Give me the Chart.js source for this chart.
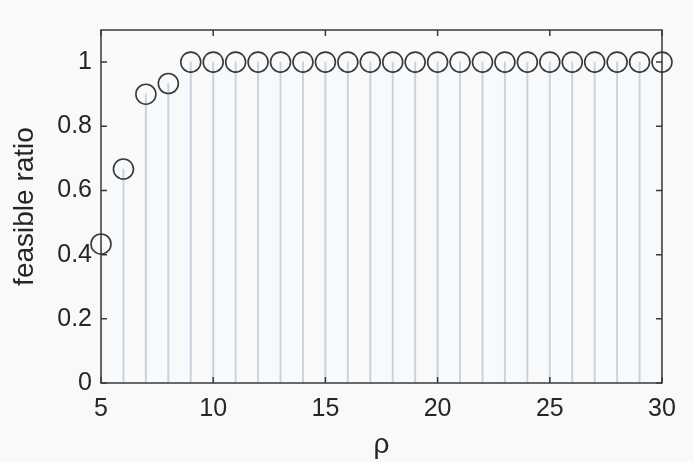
<!DOCTYPE html>
<html>
<head>
<meta charset="utf-8">
<script src="https://cdn.jsdelivr.net/npm/chart.js@4.4.1/dist/chart.umd.min.js"></script>
<style>
  html, body { margin: 0; padding: 0; background: #f8f9fb; }
  #wrap { width: 693px; height: 462px; }
</style>
</head>
<body>
<div id="wrap"><canvas id="c" width="693" height="462"></canvas></div>
<script>
// rho values and the feasible ratio at each
const rhoValues = [5, 6, 7, 8, 9, 10, 11, 12, 13, 14, 15, 16, 17, 18, 19, 20, 21, 22, 23, 24, 25, 26, 27, 28, 29, 30];
const feasibleRatio = [0.4333, 0.6667, 0.9, 0.9333, 1, 1, 1, 1, 1, 1, 1, 1, 1, 1, 1, 1, 1, 1, 1, 1, 1, 1, 1, 1, 1, 1];
const xTicks = [5, 10, 15, 20, 25, 30];
const yTicks = [0, 0.2, 0.4, 0.6, 0.8, 1];

const points = rhoValues.map((r, i) => ({ x: r, y: feasibleRatio[i] }));

const AXIS_COLOR = '#3a3a3a';
const TEXT_COLOR = '#262626';
const FONT = 'Liberation Sans, Arial, Helvetica, sans-serif';

// background, box outline and inward tick marks on all four sides
const framePlugin = {
  id: 'frame',
  beforeDraw(chart) {
    const ctx = chart.ctx;
    ctx.save();
    ctx.fillStyle = '#f8f9fb';
    ctx.fillRect(0, 0, chart.width, chart.height);
    ctx.restore();
  },
  afterDatasetsDraw(chart) {
    const { ctx, chartArea: a, scales } = chart;
    const len = 6;
    ctx.save();
    ctx.strokeStyle = AXIS_COLOR;
    ctx.lineWidth = 1.5;
    ctx.beginPath();
    xTicks.forEach(v => {
      const px = scales.x.getPixelForValue(v);
      ctx.moveTo(px, a.bottom); ctx.lineTo(px, a.bottom - len);
      ctx.moveTo(px, a.top); ctx.lineTo(px, a.top + len);
    });
    yTicks.forEach(v => {
      const py = scales.y.getPixelForValue(v);
      ctx.moveTo(a.left, py); ctx.lineTo(a.left + len, py);
      ctx.moveTo(a.right, py); ctx.lineTo(a.right - len, py);
    });
    ctx.stroke();
    ctx.strokeRect(a.left, a.top, a.right - a.left, a.bottom - a.top);
    ctx.restore();
  }
};

new Chart(document.getElementById('c'), {
  data: {
    datasets: [
      {
        type: 'scatter',
        data: points,
        pointStyle: 'circle',
        pointRadius: 10,
        pointHoverRadius: 10,
        pointBorderWidth: 1.6,
        pointBorderColor: '#383838',
        pointBackgroundColor: 'rgba(0,0,0,0)',
        showLine: false,
        clip: false,
        order: 1
      },
      {
        type: 'bar',
        data: points,
        backgroundColor: '#c6d3dd',
        borderWidth: 0,
        barThickness: 1.3,
        order: 2
      }
    ]
  },
  options: {
    responsive: false,
    animation: false,
    events: [],
    layout: { padding: { top: 30, right: 31, left: 0, bottom: 0 } },
    plugins: { legend: { display: false }, tooltip: { enabled: false } },
    scales: {
      x: {
        type: 'linear',
        position: 'bottom',
        min: 5,
        max: 30,
        offset: false,
        afterBuildTicks(scale) { scale.ticks = xTicks.map(v => ({ value: v })); },
        afterFit(scale) { scale.height = 79; },
        grid: { display: false, drawTicks: false },
        border: { display: false },
        ticks: {
          color: TEXT_COLOR,
          font: { family: FONT, size: 25 },
          padding: 11,
          maxRotation: 0,
          autoSkip: false
        },
        title: {
          display: true,
          text: 'ρ',
          color: TEXT_COLOR,
          font: { family: FONT, size: 28 },
          padding: { top: 0, bottom: 0 }
        }
      },
      y: {
        type: 'linear',
        position: 'left',
        min: 0,
        max: 1.1,
        afterBuildTicks(scale) { scale.ticks = yTicks.map(v => ({ value: v })); },
        afterFit(scale) { scale.width = 101; },
        grid: { display: false, drawTicks: false },
        border: { display: false },
        ticks: {
          color: TEXT_COLOR,
          font: { family: FONT, size: 25 },
          padding: 9,
          callback: v => String(Math.round(v * 10) / 10)
        },
        title: {
          display: true,
          text: 'feasible ratio',
          color: TEXT_COLOR,
          font: { family: FONT, size: 28 },
          padding: { top: 8, bottom: 0 }
        }
      }
    }
  },
  plugins: [framePlugin]
});
</script>
</body>
</html>
